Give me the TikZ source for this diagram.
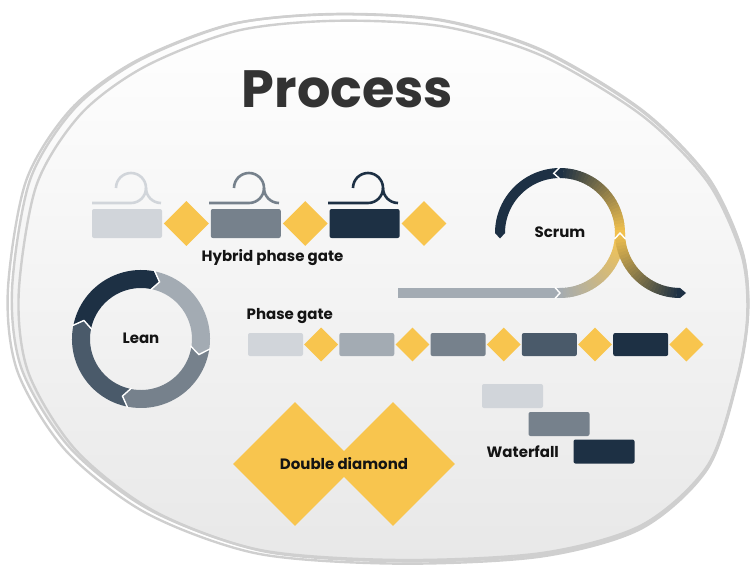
\documentclass[tikz,border=0pt]{standalone}
\usepackage{fontspec}
\setmainfont{Poppins}
\usetikzlibrary{shapes.geometric,positioning,calc}
\definecolor{navy}{HTML}{1D3044}
\definecolor{slate}{HTML}{4A5A6A}
\definecolor{steel}{HTML}{76818C}
\definecolor{silver}{HTML}{A3ABB3}
\definecolor{mist}{HTML}{D1D5DA}
\definecolor{gold}{HTML}{F8C54E}
\definecolor{ink}{HTML}{333333}
\definecolor{rim}{HTML}{CFCFCF}

% small loop drawn above each hybrid stage: colour, line start, loop centre
\newcommand{\gateicon}[3]{%
  \draw[#1, line width=2.6pt] (#2,203) -- (#3,203)
    arc[start angle=90, end angle=0, radius=15]
    arc[start angle=360, end angle=180, radius=15];
  \draw[#1, line width=2.6pt] (#3+15,188) arc[start angle=180, end angle=90, radius=15];}

% one quarter of the lean ring: colour, from, to
\newcommand{\leanseg}[3]{%
  \fill[#1] (#2:69) arc[start angle=#2, end angle=#3, radius=69] -- (#3+7:60)
    -- (#3:51) arc[start angle=#3, end angle=#2, radius=51] -- (#2+7:60) -- cycle;}

\begin{document}
\begin{tikzpicture}[x=1pt, y=-1pt,
  blk/.style={fill=#1, rounded corners=2pt, inner sep=0pt},
  gate/.style={diamond, fill=gold, inner sep=0pt, minimum size=#1},
  lbl/.style={font=\bfseries\fontsize{15}{17}\selectfont, text=black!92, inner sep=0pt},
  notch/.style={white, line width=1.4pt}]
\useasboundingbox (0,0) rectangle (755,576);

% backdrop
\fill[top color=white, bottom color=black!9] plot[smooth cycle] coordinates {
  (333,14) (442,20) (542,50) (642,110) (708,177) (742,250) (748,310) (738,375)
  (708,465) (642,525) (542,553) (400,560) (260,550) (150,510) (70,448) (22,370)
  (12,290) (30,180) (75,108) (140,60) (233,24)};
\foreach \dx/\dy/\s in {0/0/1, 3/4/0.99, -2/2/1.006}
  \draw[rim, line width=2.4pt, shift={(\dx,\dy)}, scale around={\s:(380,290)}]
    plot[smooth cycle] coordinates {
  (333,14) (442,20) (542,50) (642,110) (708,177) (742,250) (748,310) (738,375)
  (708,465) (642,525) (542,553) (400,560) (260,550) (150,510) (70,448) (22,370)
  (12,290) (30,180) (75,108) (140,60) (233,24)};

\node[anchor=base, text=ink, font=\bfseries\fontsize{52.5}{58}\selectfont, inner sep=0pt]
  (title) at (347.5,107) {Process};

% hybrid phase gate
\node[blk=mist, minimum width=70pt, minimum height=29pt] (hb1) at (127,223.5) {};
\node[gate=45pt, right=1.5pt of hb1] (hd1) {};
\node[blk=steel, minimum width=70pt, minimum height=29pt, right=1.5pt of hd1] (hb2) {};
\node[gate=45pt, right=1.5pt of hb2] (hd2) {};
\node[blk=navy, minimum width=70pt, minimum height=29pt, right=1.5pt of hd2] (hb3) {};
\node[gate=45pt, right=1.5pt of hb3] (hd3) {};
\gateicon{mist}{92}{131}
\gateicon{steel}{209}{249}
\gateicon{navy}{328}{368}
\node[lbl, anchor=base] (hybrid) at (272.5,261) {Hybrid phase gate};

% phase gate
\node[lbl, anchor=base west] (phase) at (246.5,319) {Phase gate};
\node[blk=mist, minimum width=55pt, minimum height=23pt] (pb1) at (275.5,344.5) {};
\node[gate=34pt, right=0.75pt of pb1] (pd1) {};
\node[blk=silver, minimum width=55pt, minimum height=23pt, right=0.75pt of pd1] (pb2) {};
\node[gate=34pt, right=0.75pt of pb2] (pd2) {};
\node[blk=steel, minimum width=55pt, minimum height=23pt, right=0.75pt of pd2] (pb3) {};
\node[gate=34pt, right=0.75pt of pb3] (pd3) {};
\node[blk=slate, minimum width=55pt, minimum height=23pt, right=0.75pt of pd3] (pb4) {};
\node[gate=34pt, right=0.75pt of pb4] (pd4) {};
\node[blk=navy, minimum width=55pt, minimum height=23pt, right=0.75pt of pd4] (pb5) {};
\node[gate=34pt, right=0.75pt of pb5] (pd5) {};

% lean
\begin{scope}[shift={(141,339)}]
  \leanseg{navy}{191}{281}
  \leanseg{silver}{281}{368}
  \leanseg{steel}{8}{101}
  \leanseg{slate}{101}{191}
  \foreach \j in {191,281,368,101}
    \draw[notch] (\j:70) -- (\j+7:60) -- (\j:50);
\end{scope}
\node[lbl, anchor=base] (lean) at (141,343) {Lean};

% scrum
\draw[silver, line width=10pt] (398,293) -- (560,293);
\begin{scope}[shift={(560,233)}]
  \draw[navy, line width=10pt] (180:60) arc[start angle=180, end angle=270.5, radius=60];
  \foreach \a in {270,273,...,357} {
    \pgfmathsetmacro\p{(\a-270)/90*100}
    \draw[gold!\p!navy, line width=10pt] (\a:60) arc[start angle=\a, end angle=\a+3.5, radius=60]; }
  \foreach \a in {0,3,...,87} {
    \pgfmathsetmacro\p{100-\a/90*100}
    \draw[gold!\p!silver, line width=10pt] (\a:60) arc[start angle=\a, end angle=\a+3.5, radius=60]; }
  \draw[notch] (270:66) -- (264:60) -- (270:54);
\end{scope}
\begin{scope}[shift={(680,233)}]
  \foreach \a in {90,93,...,177} {
    \pgfmathsetmacro\p{(\a-90)/90*100}
    \draw[gold!\p!navy, line width=10pt] (\a:60) arc[start angle=\a, end angle=\a+3.5, radius=60]; }
\end{scope}
\fill[navy] (495,233) -- (500,238.5) -- (505,233) -- cycle;
\fill[navy] (680,288) -- (686,293) -- (680,298) -- cycle;
\draw[notch] (614.5,239) -- (620,233) -- (625.5,239);
\draw[notch] (555,287.5) -- (560,293) -- (555,298.5);
\node[lbl, anchor=base] (scrum) at (560,237) {Scrum};

% double diamond
\node[gate=124pt] (dd1) at (295,464) {};
\node[gate=124pt] (dd2) at (393,464) {};
\node[lbl, anchor=base] (double) at ($(dd1)!0.5!(dd2)+(0,5)$) {Double diamond};

% waterfall
\node[blk=mist, minimum width=61pt, minimum height=24pt] (wf1) at (512.5,396) {};
\node[blk=steel, minimum width=61pt, minimum height=24pt] (wf2) at (559,424) {};
\node[blk=navy, minimum width=61pt, minimum height=24pt] (wf3) at (604,451.5) {};
\node[lbl, anchor=base west] (water) at (486.5,457) {Waterfall};
\end{tikzpicture}
\end{document}
